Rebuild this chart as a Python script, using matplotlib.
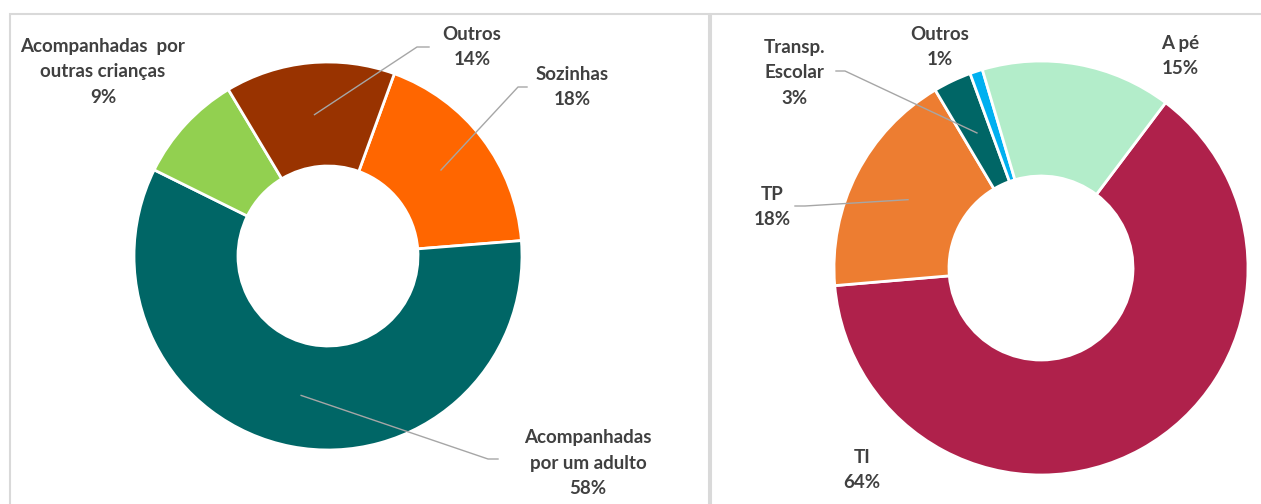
import matplotlib.pyplot as plt
from matplotlib.patches import Rectangle
import numpy as np

plt.rcParams['font.family'] = ['Lato', 'DejaVu Sans']

# grafico da esquerda - como vao as criancas
cat_esq = ['Sozinhas', 'Acompanhadas\npor um adulto', 'Acompanhadas  por\noutras crianças', 'Outros']
val_esq = [18, 58, 9, 14]
cor_esq = ['#FF6600', '#006666', '#92D050', '#993300']

# grafico da direita - modo de transporte
cat_dir = ['TI', 'TP', 'Transp.\nEscolar', 'Outros', 'A pé']
val_dir = [64, 18, 3, 1, 15]
cor_dir = ['#AF214B', '#ED7D31', '#006666', '#00B0F0', '#B3EDCA']

W, H = 1261, 504
fig = plt.figure(figsize=(W / 100, H / 100), dpi=100)
ax = fig.add_axes([0, 0, 1, 1])


def donut(valores, cores, centro, raio, furo, inicio):
    cx, cy = centro
    wedges, _ = ax.pie(valores, colors=cores, center=(cx, H - cy), radius=raio,
                       startangle=90 - inicio, counterclock=False,
                       wedgeprops=dict(width=raio - furo, edgecolor='white', linewidth=2))
    return wedges


def ponto_meio(w):
    # ponto no meio do anel, no angulo medio da fatia
    ang = np.deg2rad((w.theta1 + w.theta2) / 2)
    r = w.r - w.width / 2
    return w.center[0] + r * np.cos(ang), w.center[1] + r * np.sin(ang)


def rotulo(txt, x, y):
    ax.text(x, H - y, txt, ha='center', va='center', fontsize=13.5,
            fontweight='bold', color='#404040', linespacing=1.6)


def guia(w, x1, x2, y):
    px, py = ponto_meio(w)
    ax.plot([x1, x2, px], [H - y, H - y, py], color='#A6A6A6', lw=1)


w_esq = donut(val_esq, cor_esq, (328, 256), 194, 90, 20)
w_dir = donut(val_dir, cor_dir, (1041, 268), 207, 92, 37)

# pie mexe nos limites, por isso so depois
ax.set_xlim(0, W)
ax.set_ylim(0, H)
ax.set_aspect('equal')
ax.axis('off')

# molduras
ax.add_patch(Rectangle((10, -10), 699, H - 14 + 10, fill=False, ec='#D9D9D9', lw=1.5))
ax.add_patch(Rectangle((711, -10), 600, H - 14 + 10, fill=False, ec='#D9D9D9', lw=1.5))

# rotulos esquerda
pos_esq = [(572, 87), (588, 463), (103, 72), (472, 47)]
for c, v, (x, y) in zip(cat_esq, val_esq, pos_esq):
    rotulo(f'{c}\n{v}%', x, y)
guia(w_esq[0], 527, 518, 87)
guia(w_esq[1], 498, 488, 459)
guia(w_esq[3], 429, 417, 47)

# rotulos direita
pos_dir = [(862, 470), (772, 207), (794, 73), (940, 47), (1180, 56)]
for c, v, (x, y) in zip(cat_dir, val_dir, pos_dir):
    rotulo(f'{c}\n{v}%', x, y)
guia(w_dir[1], 795, 805, 206)
guia(w_dir[2], 836, 845, 71)

fig.savefig('out.png', dpi=100)
